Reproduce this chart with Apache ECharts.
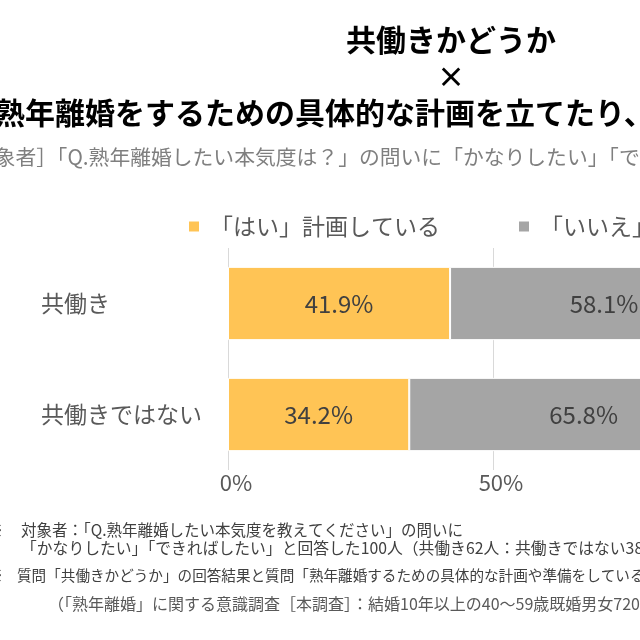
<!DOCTYPE html>
<html>
<head>
<meta charset="utf-8">
<script src="https://cdn.jsdelivr.net/npm/echarts@6/dist/echarts.min.js"></script>
<style>
html, body { margin: 0; padding: 0; background: #fff; overflow: hidden; }
/* 元画像は右側が切れているので、広いキャンバスに描いて640pxで切り取る */
#main { width: 1000px; height: 640px; }
</style>
</head>
<body>
<div id="main"></div>
<script>
const categories = ['共働き', '共働きではない'];
const seriesNames = ['「はい」計画している', '「いいえ」計画していない'];
const yesValues = [41.9, 34.2];
const noValues = [58.1, 65.8];
const xMax = 100;
const xInterval = 50;

const FONT = '"Noto Sans CJK JP", "Noto Sans", sans-serif';

// 見出し・注記
const titleLine1 = '共働きかどうか';
const titleCross = '×';
const titleLine2 = '熟年離婚をするための具体的な計画を立てたり、準備をしたりしていますか？';
const subTitle = '［対象者］「Q.熟年離婚したい本気度は？」の問いに「かなりしたい」「できればしたい」と回答した人';
const notes = [
  '対象者：「Q.熟年離婚したい本気度を教えてください」の問いに',
  '「かなりしたい」「できればしたい」と回答した100人（共働き62人：共働きではない38人）',
  '質問「共働きかどうか」の回答結果と質問「熟年離婚するための具体的な計画や準備をしているか」の回答結果をクロス集計',
  '（「熟年離婚」に関する意識調査［本調査］：結婚10年以上の40～59歳既婚男女720人）'
];

function txt(x, y, text, size, color, opts) {
  opts = opts || {};
  return {
    type: 'text',
    x: x,
    y: y,
    silent: true,
    style: {
      text: text,
      fill: color,
      font: (opts.bold ? 'bold ' : '') + size + 'px ' + FONT,
      textAlign: opts.align || 'left',
      align: opts.align || 'left',
      textVerticalAlign: 'middle',
      verticalAlign: 'middle'
    }
  };
}

const chart = echarts.init(document.getElementById('main'));

const option = {
  backgroundColor: '#ffffff',
  animation: false,
  textStyle: { fontFamily: FONT },
  legend: {
    data: seriesNames,
    left: 182,
    top: 210,
    icon: 'rect',
    itemWidth: 12,
    itemHeight: 12,
    itemGap: 77,
    textStyle: { fontSize: 23, color: '#595959', fontFamily: FONT, padding: [0, 0, 0, 5] }
  },
  grid: {
    left: 228,
    right: 242,
    top: 248,
    bottom: 170,
    containLabel: false
  },
  xAxis: {
    type: 'value',
    min: 0,
    max: xMax,
    interval: xInterval,
    axisLine: { show: false },
    axisTick: { show: false },
    splitLine: { show: true, lineStyle: { color: '#D9D9D9', width: 1 } },
    axisLabel: {
      formatter: '{value}%',
      fontSize: 22,
      color: '#595959',
      fontFamily: FONT,
      margin: 2,
      padding: [0, 0, 0, 16]
    }
  },
  yAxis: {
    type: 'category',
    inverse: true,
    data: categories,
    axisLine: { show: false },
    axisTick: { show: false },
    axisLabel: {
      align: 'left',
      margin: 187,
      fontSize: 23,
      color: '#595959',
      fontFamily: FONT,
      padding: [0, 0, 8, 0]
    }
  },
  series: [
    {
      name: seriesNames[0],
      type: 'bar',
      stack: 'total',
      data: yesValues,
      barCategoryGap: '34%',
      itemStyle: { color: '#FFC455', borderColor: '#ffffff', borderWidth: 1 },
      label: { show: true, position: 'inside', formatter: '{c}%', fontSize: 24, color: '#404040', fontFamily: FONT }
    },
    {
      name: seriesNames[1],
      type: 'bar',
      stack: 'total',
      data: noValues,
      barCategoryGap: '34%',
      itemStyle: { color: '#A5A5A5', borderColor: '#ffffff', borderWidth: 1 },
      label: { show: true, position: 'inside', formatter: '{c}%', fontSize: 24, color: '#404040', fontFamily: FONT }
    }
  ],
  graphic: [
    txt(451, 40, titleLine1, 30, '#000000', { bold: true, align: 'center' }),
    txt(451, 77, titleCross, 28, '#000000', { bold: true, align: 'center' }),
    txt(-5, 113, titleLine2, 30, '#000000', { bold: true }),
    txt(-47, 157, subTitle, 20.8, '#7F7F7F'),
    txt(-12, 530, '※', 15, '#404040'),
    txt(21, 530, notes[0], 15.5, '#404040'),
    txt(21, 548, notes[1], 15.8, '#404040'),
    txt(-12, 575, '※', 15, '#404040'),
    txt(17, 575, notes[2], 14.6, '#404040'),
    txt(48, 604, notes[3], 16, '#595959')
  ]
};

chart.setOption(option);
</script>
</body>
</html>
